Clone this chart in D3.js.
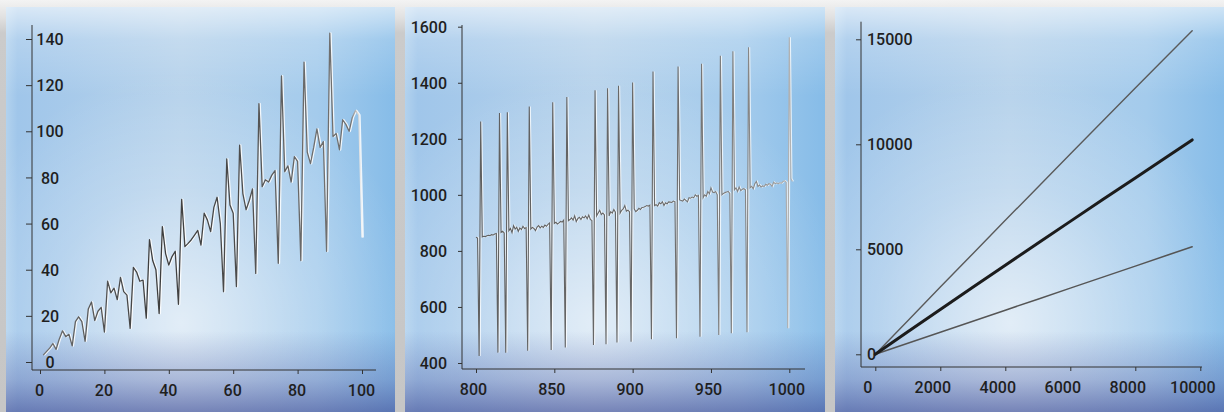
<!DOCTYPE html>
<html><head><meta charset="utf-8">
<script src="https://cdn.jsdelivr.net/npm/d3@7"></script>
<style>html,body{margin:0;padding:0;background:#cbcbcb;}svg{display:block;}</style>
</head><body><svg id="c" width="1224" height="412"></svg>
<script>
// ---------- DATA ----------
const p1Start = 1;
const p1Values = [
  3, 4.5, 6, 8, 5.5, 10, 13.5, 11, 12, 7,
  17.5, 19.6, 17.5, 9, 23, 26, 18, 22, 23.7, 13,
  35, 30, 32, 27, 36.7, 30.5, 29, 14.6, 41, 39,
  35, 35.5, 19, 53, 44, 40, 21, 58.7, 47, 42,
  45.7, 48, 25, 70.5, 50, 51.4, 53, 55, 57, 50.7,
  64.5, 61.5, 56.5, 67, 71.4, 60, 30.5, 88, 68, 64.5,
  32.7, 94, 73, 66, 70, 75, 38.4, 112, 76, 79,
  78, 81, 83, 42.8, 124, 82.5, 85, 78, 89, 87,
  44, 130, 91, 86, 93, 101, 93, 95.5, 48, 142.5,
  97.7, 99, 92, 105, 103, 100, 106, 109, 107, 54
];
const p1XTicks = [0, 20, 40, 60, 80, 100];
const p1YTicks = [0, 20, 40, 60, 80, 100, 120, 140];

const p2Start = 800;
const p2Values = [
  849, 846, 425, 1262, 850, 852, 851, 854, 856, 855,
  858, 857, 860, 862, 437, 1292, 866, 870, 864, 437,
  1295, 872, 880, 865, 890, 878, 884, 870, 882, 876,
  888, 880, 883, 444, 1315, 878, 884, 880, 872, 885,
  890, 882, 888, 884, 892, 888, 895, 900, 446, 1330,
  898, 902, 896, 900, 905, 903, 910, 455, 1349, 908,
  912, 918, 910, 925, 905, 915, 920, 912, 922, 918,
  925, 915, 928, 912, 908, 464, 1373, 925, 935, 945,
  930, 935, 928, 467, 1380, 925, 940, 935, 948, 938,
  473, 1389, 935, 945, 950, 962, 942, 945, 940, 476,
  1401, 950, 940, 945, 952, 948, 955, 956, 958, 962,
  960, 963, 485, 1440, 962, 965, 960, 972, 968, 975,
  962, 972, 968, 975, 974, 973, 978, 976, 488, 1458,
  982, 980, 978, 985, 980, 975, 990, 988, 992, 990,
  1000, 995, 998, 494, 1468, 990, 1000, 995, 1012, 1004,
  1025, 1010, 1008, 1012, 1000, 500, 1496, 1000, 1005, 1008,
  1010, 1012, 1005, 506, 1512, 1018, 1025, 1012, 1028, 1015,
  1020, 1022, 1018, 510, 1527, 1025, 1030, 1022, 1040, 1048,
  1030, 1035, 1028, 1032, 1030, 1038, 1034, 1040, 1038, 1030,
  1045, 1040, 1042, 1040, 1043, 1042, 1048, 1050, 1045, 524,
  1562, 1058, 1048
];
const p2XTicks = [800, 850, 900, 950, 1000];
const p2YTicks = [400, 600, 800, 1000, 1200, 1400, 1600];

const p3X = [0, 1000, 2000, 3000, 4000, 5000, 6000, 7000, 8000, 9000, 9750];
const p3Upper = [0, 1600, 3200, 4790, 6380, 7960, 9540, 11110, 12680, 14240, 15410];
const p3Middle = [0, 1070, 2130, 3190, 4240, 5290, 6330, 7370, 8400, 9430, 10210];
const p3Lower = [0, 525, 1050, 1575, 2100, 2625, 3150, 3675, 4200, 4725, 5120];
const p3XTicks = [0, 2000, 4000, 6000, 8000, 10000];
const p3YTicks = [0, 5000, 10000, 15000];

// ---------- DRAW ----------
const svg = d3.select("#c");
const defs = svg.append("defs");

function lin(id, x2, y2, stops) {
  const g = defs.append("linearGradient").attr("id", id)
    .attr("x1", 0).attr("y1", 0).attr("x2", x2).attr("y2", y2);
  stops.forEach(s => g.append("stop").attr("offset", s[0]).attr("stop-color", s[1]).attr("stop-opacity", s[2] ?? 1));
  return g;
}
lin("pageBg", 0, 1, [[0, "#f3f3f3"], [0.04, "#e2e2e2"], [0.08, "#cbcbcb"], [1, "#c6c6c6"]]);
lin("bgH", 1, 0, [[0, "#b2d2ee"], [0.03, "#a0c6ea"], [0.45, "#b6d2eb"], [0.8, "#a4cbec"], [1, "#86bce8"]]);
lin("topHi", 0, 1, [[0, "#ffffff", 0.6], [0.08, "#ffffff", 0.2], [0.22, "#ffffff", 0]]);
lin("botDark", 0, 1, [[0, "#3e4a98", 0], [0.8, "#3e4a98", 0], [0.92, "#46509a", 0.3], [1, "#3a4590", 0.6]]);
const rg = defs.append("radialGradient").attr("id", "glow").attr("cx", 0.45).attr("cy", 0.78).attr("r", 0.62);
rg.append("stop").attr("offset", 0).attr("stop-color", "#ffffff").attr("stop-opacity", 0.6);
rg.append("stop").attr("offset", 0.55).attr("stop-color", "#ffffff").attr("stop-opacity", 0.2);
rg.append("stop").attr("offset", 1).attr("stop-color", "#ffffff").attr("stop-opacity", 0);

svg.append("rect").attr("width", 1224).attr("height", 412).attr("fill", "url(#pageBg)");

const panels = [
  {x: 6, w: 389}, {x: 405, w: 420}, {x: 835, w: 389}
];
panels.forEach(p => {
  ["url(#bgH)", "url(#glow)", "url(#topHi)", "url(#botDark)"].forEach(f =>
    svg.append("rect").attr("x", p.x).attr("y", 7).attr("width", p.w).attr("height", 405).attr("fill", f));
});

const FONT = "Roboto, 'Liberation Sans', sans-serif";

function drawAxes(cfg) {
  const g = svg.append("g");
  g.append("line").attr("x1", cfg.ax).attr("x2", cfg.ax).attr("y1", cfg.yTop).attr("y2", cfg.ay)
    .attr("stroke", "#333").attr("stroke-width", 1);
  g.append("line").attr("x1", cfg.ax).attr("x2", cfg.xRight).attr("y1", cfg.ay).attr("y2", cfg.ay)
    .attr("stroke", "#333").attr("stroke-width", 1);

  const ya = g.append("g").attr("transform", `translate(${cfg.ax},0)`)
    .call(d3.axisLeft(cfg.y).tickValues(cfg.yTicks).tickSize(cfg.yTick).tickFormat(d3.format("d")));
  ya.select(".domain").remove();
  ya.selectAll(".tick line").attr("stroke", "#333");
  ya.selectAll(".tick text").attr("x", cfg.yLabX).attr("text-anchor", cfg.yAnchor)
    .attr("dy", "0.35em").attr("fill", "#1f1f1f").style("font", `500 16px ${FONT}`);

  const xa = g.append("g").attr("transform", `translate(0,${cfg.ay})`)
    .call(d3.axisBottom(cfg.x).tickValues(cfg.xTicks).tickSize(4).tickFormat(d3.format("d")));
  xa.select(".domain").remove();
  xa.selectAll(".tick line").attr("stroke", "#333");
  xa.selectAll(".tick text").attr("y", cfg.xLabY).attr("dy", "0.35em").attr("dx", cfg.xLabDx)
    .attr("fill", "#1f1f1f").style("font", `500 16px ${FONT}`);
}

// Panel 1
const x1 = d3.scaleLinear().domain([0, 100]).range([40, 362]);
const y1 = d3.scaleLinear().domain([0, 140]).range([362, 39]);
drawAxes({x: x1, y: y1, ax: 32, ay: 370, yTop: 25, xRight: 376, yTick: 6,
  yTicks: p1YTicks, xTicks: p1XTicks, yLabX: 18, yAnchor: "middle", xLabY: 20, xLabDx: -1});

lin("l1grad", 1, 0, [[0, "#707070"], [0.35, "#3d3d3d"], [0.6, "#4a4a4a"], [0.85, "#6e6e6e"], [0.965, "#707070"], [0.985, "#cfcfcf"], [1, "#f6f6f6"]])
  .attr("gradientUnits", "userSpaceOnUse")
  .attr("x1", x1(0)).attr("x2", x1(100)).attr("y1", 0).attr("y2", 0);
const line1 = d3.line().x((d, i) => x1(p1Start + i)).y(d => y1(d));
svg.append("path").datum(p1Values).attr("d", line1).attr("fill", "none")
  .attr("stroke", "#ffffff").attr("stroke-opacity", 0.85).attr("stroke-width", 1.8)
  .attr("transform", "translate(1,0)").attr("stroke-linejoin", "round");
svg.append("path").datum(p1Values).attr("d", line1).attr("fill", "none")
  .attr("stroke", "url(#l1grad)").attr("stroke-width", 1.3).attr("stroke-linejoin", "round");

// Panel 2
const x2 = d3.scaleLinear().domain([800, 1000]).range([476, 789.3]);
const y2 = d3.scaleLinear().domain([400, 1600]).range([363, 26.7]);
drawAxes({x: x2, y: y2, ax: 462, ay: 369, yTop: 25, xRight: 805, yTick: 4,
  yTicks: p2YTicks, xTicks: p2XTicks, yLabX: -15, yAnchor: "end", xLabY: 20, xLabDx: -3});
lin("l2grad", 1, 0, [[0, "#5f5f5f"], [0.6, "#6a6a6a"], [0.9, "#8a8a8a"], [1, "#b5b5b5"]])
  .attr("gradientUnits", "userSpaceOnUse")
  .attr("x1", x2(800)).attr("x2", x2(1002)).attr("y1", 0).attr("y2", 0);
const line2 = d3.line().x((d, i) => x2(p2Start + i)).y(d => y2(d));
svg.append("path").datum(p2Values).attr("d", line2).attr("fill", "none")
  .attr("stroke", "#ffffff").attr("stroke-opacity", 0.75).attr("stroke-width", 1.3)
  .attr("transform", "translate(1,0)");
svg.append("path").datum(p2Values).attr("d", line2).attr("fill", "none")
  .attr("stroke", "url(#l2grad)").attr("stroke-width", 1.1);

// Panel 3
const x3 = d3.scaleLinear().domain([0, 10000]).range([875.3, 1200.3]);
const y3 = d3.scaleLinear().domain([0, 15000]).range([354.3, 39.3]);
drawAxes({x: x3, y: y3, ax: 861, ay: 367, yTop: 21.7, xRight: 1202, yTick: 5,
  yTicks: p3YTicks, xTicks: p3XTicks, yLabX: 6, yAnchor: "start", xLabY: 20, xLabDx: -8});
const line3 = ys => d3.line().x((d, i) => x3(p3X[i])).y(d => y3(d))(ys);
[[p3Upper, "#5a5a5a", 1.4], [p3Lower, "#555555", 1.5], [p3Middle, "#1c1c1c", 3]].forEach(([ys, c, w]) => {
  svg.append("path").attr("d", line3(ys)).attr("fill", "none").attr("stroke", c)
    .attr("stroke-width", w).attr("stroke-linecap", "round");
});
</script></body></html>
